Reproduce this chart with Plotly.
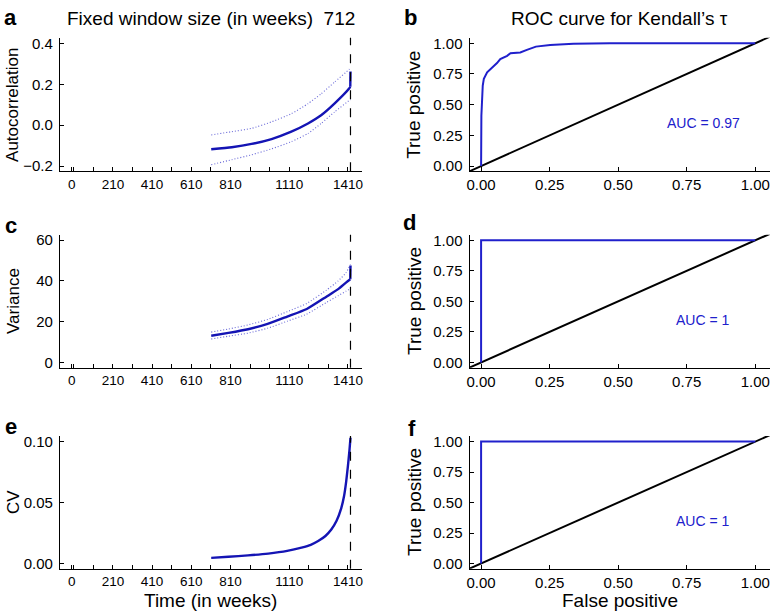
import plotly.graph_objects as go

# ---------------- data ----------------
window_label = "712"
event_time = 1423

# panel a: autocorrelation (mean and bands)
ac_time = [712, 817, 918, 1020, 1121, 1206, 1273, 1341, 1417, 1422, 1423]
ac_mean = [-0.118, -0.108, -0.092, -0.068, -0.032, 0.008, 0.048, 0.105, 0.180, 0.188, 0.262]
ac_band_time = [712, 817, 918, 1020, 1121, 1206, 1273, 1341, 1417, 1423]
ac_upper = [-0.048, -0.032, -0.016, 0.016, 0.056, 0.105, 0.153, 0.210, 0.274, 0.282]
ac_lower = [-0.194, -0.169, -0.145, -0.116, -0.081, -0.041, 0.008, 0.064, 0.121, 0.125]

# panel c: variance
var_time = [712, 800, 900, 1000, 1100, 1200, 1300, 1360, 1400, 1422, 1423]
var_mean = [13.2, 14.6, 16.4, 19.0, 22.6, 26.3, 32.3, 36.0, 39.2, 40.8, 47.6]
var_band_time = [712, 800, 900, 1000, 1100, 1200, 1300, 1360, 1400, 1423]
var_upper = [15.0, 16.5, 18.5, 21.2, 25.0, 29.0, 35.5, 40.0, 44.0, 48.0]
var_lower = [11.6, 13.0, 14.5, 16.9, 20.3, 23.8, 29.5, 32.8, 35.0, 36.2]

# panel e: coefficient of variation
cv_time = [712, 800, 900, 1003, 1100, 1173, 1220, 1258, 1295, 1325, 1352, 1376, 1390, 1401, 1410, 1418, 1423]
cv_vals = [0.0046, 0.0055, 0.0066, 0.0081, 0.0103, 0.0130, 0.0153, 0.0184, 0.0225, 0.0278,
           0.0350, 0.0454, 0.0550, 0.0670, 0.0800, 0.0930, 0.1030]

# ROC curves
roc_b_fpr = [0.0, 0.001, 0.006, 0.010, 0.022, 0.040, 0.058, 0.070, 0.095, 0.107, 0.143, 0.167,
             0.200, 0.252, 0.337, 0.470, 1.0]
roc_b_tpr = [0.0, 0.41, 0.656, 0.71, 0.764, 0.80, 0.839, 0.871, 0.898, 0.919, 0.925, 0.946,
             0.973, 0.987, 0.997, 1.0, 1.0]
roc_d_fpr = [0.0, 0.0, 1.0]
roc_d_tpr = [0.0, 1.0, 1.0]
roc_f_fpr = [0.0, 0.0, 1.0]
roc_f_tpr = [0.0, 1.0, 1.0]
auc_labels = ["AUC = 0.97", "AUC = 1", "AUC = 1"]
diag = [-0.1, 1.2]

time_tickvals = [0] + list(range(10, 1411, 100))
time_ticklabels = {0: "0", 210: "210", 410: "410", 610: "610", 810: "810", 1110: "1110", 1410: "1410"}
time_ticktext = [time_ticklabels.get(v, "") for v in time_tickvals]
roc_ticks = [0, 0.25, 0.5, 0.75, 1.0]

# ---------------- style ----------------
W, H = 777, 613
FONT = "Liberation Sans"
BLUE = "#1414b4"
BLUE_ROC = "#2020cc"
BAND = "#6a6ad8"

def px_x(a, b):
    return [a / W, b / W]

def px_y(top, bot):
    return [1 - bot / H, 1 - top / H]

left_x = px_x(57.3, 360.7)
right_x = px_x(469, 771)
rows = [px_y(35, 170), px_y(234, 368.3), px_y(437.3, 571.3)]

fig = go.Figure()

def add(x, y, ax, **kw):
    fig.add_trace(go.Scatter(x=x, y=y, mode="lines", xaxis="x" + ax, yaxis="y" + ax,
                             showlegend=False, hoverinfo="skip", **kw))

# left panels
for ax, t, m, bt, up, lo in [("", ac_time, ac_mean, ac_band_time, ac_upper, ac_lower),
                             ("3", var_time, var_mean, var_band_time, var_upper, var_lower)]:
    add(bt, up, ax, line=dict(color=BAND, width=1.1, dash="1px,2px", shape="spline", smoothing=0.5))
    add(bt, lo, ax, line=dict(color=BAND, width=1.1, dash="1px,2px", shape="spline", smoothing=0.5))
    add(t[:-1], m[:-1], ax, line=dict(color=BLUE, width=2.4, shape="spline", smoothing=0.5))
    add(t[-2:], m[-2:], ax, line=dict(color=BLUE, width=2.4))
add(cv_time, cv_vals, "5", line=dict(color=BLUE, width=2.4, shape="spline", smoothing=0.5))

# ROC panels
for ax, fx, ty in [("2", roc_b_fpr, roc_b_tpr), ("4", roc_d_fpr, roc_d_tpr), ("6", roc_f_fpr, roc_f_tpr)]:
    add(diag, diag, ax, line=dict(color="black", width=2))
    add(fx, ty, ax, line=dict(color=BLUE_ROC, width=2))

axis_common = dict(showline=True, linecolor="black", linewidth=1.2, showgrid=False, zeroline=False,
                   ticks="inside", ticklen=4, tickcolor="black", tickwidth=1,
                   tickfont=dict(family=FONT, size=15, color="black"), mirror=False)

layout = dict(width=W, height=H, margin=dict(l=0, r=0, t=0, b=0),
              plot_bgcolor="white", paper_bgcolor="white", showlegend=False,
              font=dict(family=FONT, color="black"))

yranges_left = [[-0.226, 0.428], [-2.4, 62.6], [-0.0043, 0.1044]]
ytickvals_left = [[-0.2, 0.0, 0.2, 0.4], [0, 20, 40, 60], [0.0, 0.05, 0.10]]
yfmt_left = [".1f", "d", ".2f"]
for r in range(3):
    li = str(2 * r + 1) if r > 0 else ""
    ri = str(2 * r + 2)
    layout["xaxis" + li] = dict(axis_common, domain=left_x, anchor="y" + li, range=[-60, 1481],
                                tickmode="array", tickvals=time_tickvals, ticktext=time_ticktext,
                                tickfont=dict(family=FONT, size=13.5, color="black"))
    layout["yaxis" + li] = dict(axis_common, domain=rows[r], anchor="x" + li, range=yranges_left[r],
                                tickmode="array", tickvals=ytickvals_left[r], tickformat=yfmt_left[r],
                                ticklabelstandoff=3)
    layout["xaxis" + ri] = dict(axis_common, domain=right_x, anchor="y" + ri, range=[-0.042, 1.054],
                                tickmode="array", tickvals=roc_ticks, tickformat=".2f")
    layout["yaxis" + ri] = dict(axis_common, domain=rows[r], anchor="x" + ri, range=[-0.043, 1.046],
                                tickmode="array", tickvals=roc_ticks, tickformat=".2f",
                                ticklabelstandoff=3)

fig.update_layout(**layout)

# dashed event line in left panels
for ax in ["", "3", "5"]:
    fig.add_shape(type="line", xref="x" + ax, yref="y" + ax + " domain", x0=event_time, x1=event_time,
                  y0=0, y1=1, line=dict(color="black", width=1.2, dash="dash"))

ann = []
def text(x, y, s, size, bold=False, color="black", angle=0, xanchor="center"):
    ann.append(dict(x=x / W, y=1 - y / H, xref="paper", yref="paper", text=("<b>%s</b>" % s) if bold else s,
                    showarrow=False, font=dict(family=FONT, size=size, color=color),
                    xanchor=xanchor, yanchor="middle", textangle=angle))

# panel letters
for s, x, y in [("a", 8, 15), ("b", 410, 15), ("c", 8, 225), ("d", 409, 222), ("e", 8, 428), ("f", 411, 430)]:
    text(x, y, s, 22, bold=True)
# titles
text(209, 16, "Fixed window size (in weeks)  " + window_label, 19)
text(620, 16, "ROC curve for Kendall’s τ", 19)
# axis titles
text(10, 103, "Autocorrelation", 17, angle=-90)
text(10, 301, "Variance", 17, angle=-90)
text(10, 504, "CV", 17, angle=-90)
for y in [103, 301, 504]:
    text(413, y, "True positive", 19, angle=-90)
text(209, 603, "Time (in weeks)", 19)
text(620, 603, "False positive", 19)
fig.update_layout(annotations=ann)

# AUC labels
for ax, lab in zip(["2", "4", "6"], auc_labels):
    fig.add_annotation(x=0.81, y=0.35, xref="x" + ax, yref="y" + ax, text=lab, showarrow=False,
                       font=dict(family=FONT, size=14, color=BLUE_ROC))

fig.write_html("out.html", config={"displayModeBar": False},
               post_script="document.body.style.margin='0px';")
